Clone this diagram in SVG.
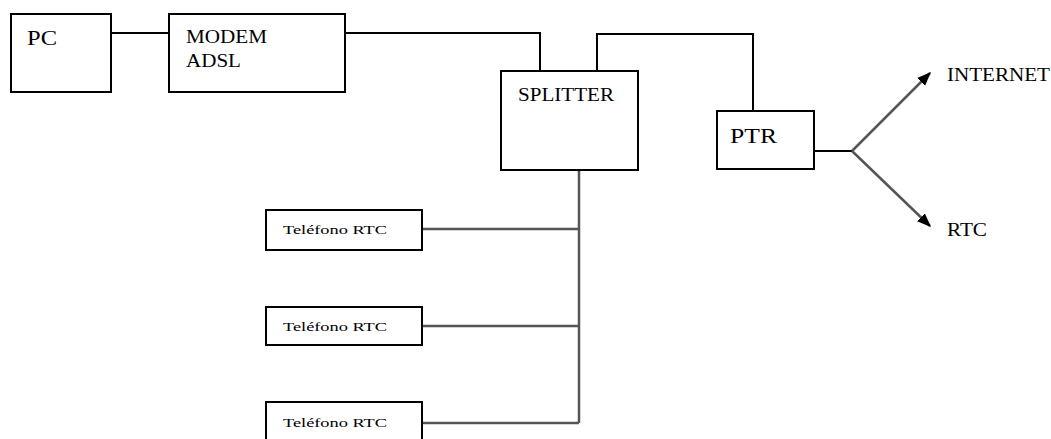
<svg xmlns="http://www.w3.org/2000/svg" width="1051" height="439" viewBox="0 0 1051 439">
<style>
.box{fill:#fff;stroke:#000;stroke-width:2}
.ln{fill:none;stroke:#000;stroke-width:2}
.gl{fill:none;stroke:#555;stroke-width:2.5}
text{font-family:"Liberation Serif","DejaVu Serif",serif;fill:#000}
.t20{font-size:20px}
.t18{font-size:18px}
.t13{font-size:13px}
</style>
<defs>
<marker id="ah2" viewBox="0 0 10 10" refX="9" refY="5" markerWidth="14" markerHeight="14" markerUnits="userSpaceOnUse" orient="auto">
<path d="M0,1 L10,5 L0,9 z" fill="#000"/>
</marker>
</defs>
<g id="connectors">
<line class="ln" x1="111" y1="33" x2="168" y2="33"/>
<polyline class="ln" points="345,33 540,33 540,71"/>
<polyline class="ln" points="597,71 597,34 753,34 753,111"/>
<line class="ln" x1="814" y1="151" x2="852" y2="151"/>
<line class="gl" x1="852" y1="151" x2="930" y2="73" marker-end="url(#ah2)"/>
<line class="gl" x1="852" y1="151" x2="930" y2="226" marker-end="url(#ah2)"/>
<line class="gl" x1="579" y1="170" x2="579" y2="423"/>
<line class="gl" x1="422" y1="229" x2="579" y2="229"/>
<line class="gl" x1="422" y1="326" x2="579" y2="326"/>
<line class="gl" x1="422" y1="423" x2="579" y2="423"/>
</g>
<g id="pc"><rect class="box" x="11" y="14" width="100" height="78"/><text class="t20" x="27" y="45" textLength="30" lengthAdjust="spacingAndGlyphs">PC</text></g>
<g id="modem"><rect class="box" x="169" y="14" width="176" height="78"/><text class="t18" x="186" y="43" textLength="81" lengthAdjust="spacingAndGlyphs">MODEM</text><text class="t18" x="186" y="67" textLength="55" lengthAdjust="spacingAndGlyphs">ADSL</text></g>
<g id="splitter"><rect class="box" x="501" y="71" width="137" height="99"/><text class="t18" x="518" y="101" textLength="96" lengthAdjust="spacingAndGlyphs">SPLITTER</text></g>
<g id="ptr"><rect class="box" x="717" y="111" width="97" height="58"/><text class="t20" x="730" y="143" textLength="47" lengthAdjust="spacingAndGlyphs">PTR</text></g>
<g id="internet"><text class="t18" x="947" y="81" textLength="103" lengthAdjust="spacingAndGlyphs">INTERNET</text></g>
<g id="rtc"><text class="t18" x="947" y="236" textLength="40" lengthAdjust="spacingAndGlyphs">RTC</text></g>
<g id="tel1"><rect class="box" x="266" y="210" width="156" height="40"/><text class="t13" x="283" y="234" textLength="104" lengthAdjust="spacingAndGlyphs">Teléfono RTC</text></g>
<g id="tel2"><rect class="box" x="266" y="307" width="156" height="38"/><text class="t13" x="283" y="331" textLength="104" lengthAdjust="spacingAndGlyphs">Teléfono RTC</text></g>
<g id="tel3"><rect class="box" x="266" y="402" width="156" height="45"/><text class="t13" x="283" y="427" textLength="104" lengthAdjust="spacingAndGlyphs">Teléfono RTC</text></g>
</svg>
